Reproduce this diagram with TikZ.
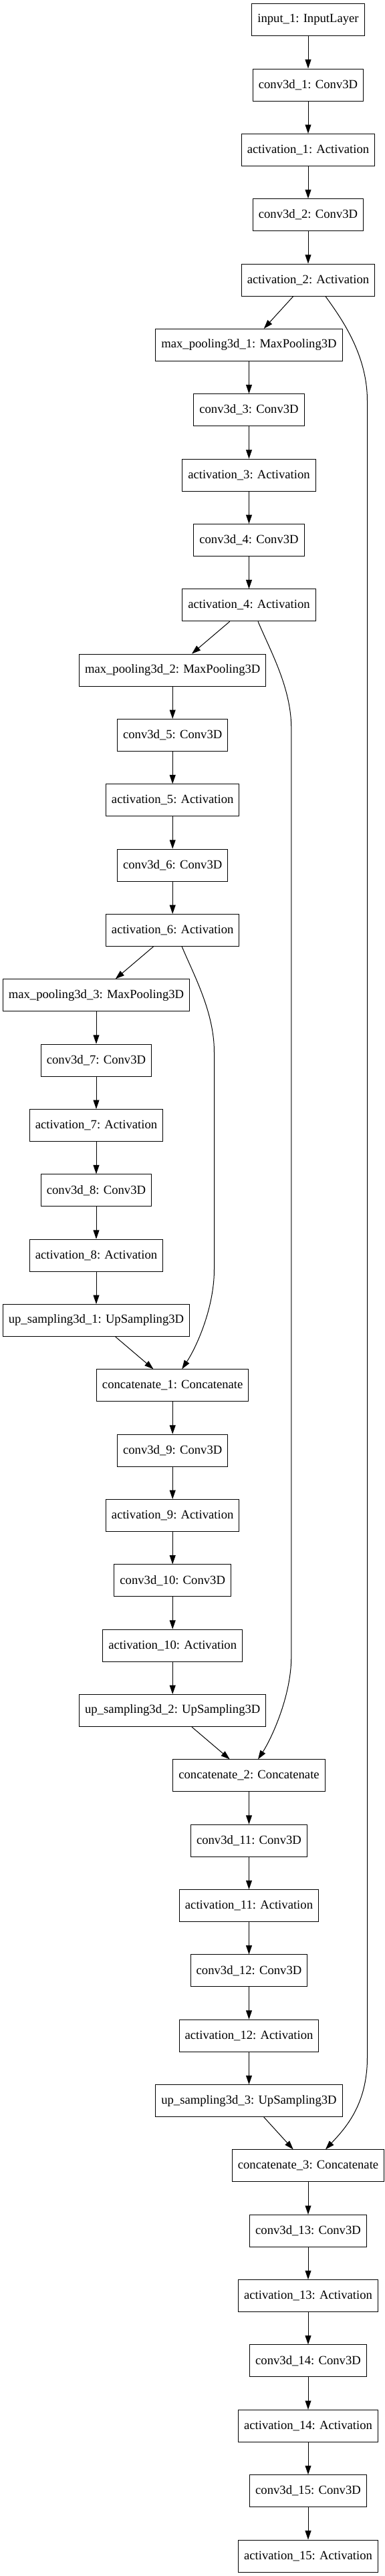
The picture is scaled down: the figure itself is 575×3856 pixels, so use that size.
\documentclass[tikz,border=0pt]{standalone}
\usepackage{fontspec}
\setmainfont{Liberation Serif}
\usepackage{tikz}
\usetikzlibrary{arrows.meta,calc}

\begin{document}
\begin{tikzpicture}[x=0.75pt,y=-0.75pt,
    layer/.style={draw,rectangle,line width=0.75pt,minimum height=36pt,inner xsep=6.4pt,inner ysep=0pt,font=\fontsize{14pt}{16pt}\selectfont},
    edge/.style={line width=0.75pt,-{Triangle[length=10pt,width=6.7pt]}}]
    \useasboundingbox (0,0) rectangle (575,3856);
    \node[layer] (in1) at (461,29.7) {input\_1: InputLayer};
    \node[layer] (cv1) at (461,127.0) {conv3d\_1: Conv3D};
    \node[layer] (ac1) at (461,224.4) {activation\_1: Activation};
    \node[layer] (cv2) at (461,321.7) {conv3d\_2: Conv3D};
    \node[layer] (ac2) at (461,419.1) {activation\_2: Activation};
    \node[layer] (mp1) at (372.5,516.4) {max\_pooling3d\_1: MaxPooling3D};
    \node[layer] (cv3) at (372.5,613.7) {conv3d\_3: Conv3D};
    \node[layer] (ac3) at (372.5,711.1) {activation\_3: Activation};
    \node[layer] (cv4) at (372.5,808.4) {conv3d\_4: Conv3D};
    \node[layer] (ac4) at (372.5,905.8) {activation\_4: Activation};
    \node[layer] (mp2) at (258.2,1003.1) {max\_pooling3d\_2: MaxPooling3D};
    \node[layer] (cv5) at (258.2,1100.4) {conv3d\_5: Conv3D};
    \node[layer] (ac5) at (258.2,1197.8) {activation\_5: Activation};
    \node[layer] (cv6) at (258.2,1295.1) {conv3d\_6: Conv3D};
    \node[layer] (ac6) at (258.2,1392.5) {activation\_6: Activation};
    \node[layer] (mp3) at (144,1489.8) {max\_pooling3d\_3: MaxPooling3D};
    \node[layer] (cv7) at (144,1587.1) {conv3d\_7: Conv3D};
    \node[layer] (ac7) at (144,1684.5) {activation\_7: Activation};
    \node[layer] (cv8) at (144,1781.8) {conv3d\_8: Conv3D};
    \node[layer] (ac8) at (144,1879.2) {activation\_8: Activation};
    \node[layer] (up1) at (144,1976.5) {up\_sampling3d\_1: UpSampling3D};
    \node[layer] (cc1) at (258.2,2073.8) {concatenate\_1: Concatenate};
    \node[layer] (cv9) at (258.2,2171.2) {conv3d\_9: Conv3D};
    \node[layer] (ac9) at (258.2,2268.5) {activation\_9: Activation};
    \node[layer] (cv10) at (258.2,2365.9) {conv3d\_10: Conv3D};
    \node[layer] (ac10) at (258.2,2463.2) {activation\_10: Activation};
    \node[layer] (up2) at (258.2,2560.5) {up\_sampling3d\_2: UpSampling3D};
    \node[layer] (cc2) at (372.5,2657.9) {concatenate\_2: Concatenate};
    \node[layer] (cv11) at (372.5,2755.2) {conv3d\_11: Conv3D};
    \node[layer] (ac11) at (372.5,2852.6) {activation\_11: Activation};
    \node[layer] (cv12) at (372.5,2949.9) {conv3d\_12: Conv3D};
    \node[layer] (ac12) at (372.5,3047.2) {activation\_12: Activation};
    \node[layer] (up3) at (372.5,3144.6) {up\_sampling3d\_3: UpSampling3D};
    \node[layer] (cc3) at (461,3241.9) {concatenate\_3: Concatenate};
    \node[layer] (cv13) at (461,3339.3) {conv3d\_13: Conv3D};
    \node[layer] (ac13) at (461,3436.6) {activation\_13: Activation};
    \node[layer] (cv14) at (461,3533.9) {conv3d\_14: Conv3D};
    \node[layer] (ac14) at (461,3631.3) {activation\_14: Activation};
    \node[layer] (cv15) at (461,3728.6) {conv3d\_15: Conv3D};
    \node[layer] (ac15) at (461,3826.0) {activation\_15: Activation};
    \coordinate (skipa1) at (549.5,600);
    \coordinate (skipa2) at (549.5,3080);
    \coordinate (skipb1) at (435.8,1090);
    \coordinate (skipb2) at (435.8,2480);
    \coordinate (skipc1) at (320.5,1575);
    \coordinate (skipc2) at (320.5,1900);
    \draw[edge] (in1) -- (cv1);
    \draw[edge] (cv1) -- (ac1);
    \draw[edge] (ac1) -- (cv2);
    \draw[edge] (cv2) -- (ac2);
    \draw[edge] (ac2) -- (mp1);
    \draw[edge] (mp1) -- (cv3);
    \draw[edge] (cv3) -- (ac3);
    \draw[edge] (ac3) -- (cv4);
    \draw[edge] (cv4) -- (ac4);
    \draw[edge] (ac4) -- (mp2);
    \draw[edge] (mp2) -- (cv5);
    \draw[edge] (cv5) -- (ac5);
    \draw[edge] (ac5) -- (cv6);
    \draw[edge] (cv6) -- (ac6);
    \draw[edge] (ac6) -- (mp3);
    \draw[edge] (mp3) -- (cv7);
    \draw[edge] (cv7) -- (ac7);
    \draw[edge] (ac7) -- (cv8);
    \draw[edge] (cv8) -- (ac8);
    \draw[edge] (ac8) -- (up1);
    \draw[edge] (up1) -- (cc1);
    \draw[edge] (cc1) -- (cv9);
    \draw[edge] (cv9) -- (ac9);
    \draw[edge] (ac9) -- (cv10);
    \draw[edge] (cv10) -- (ac10);
    \draw[edge] (ac10) -- (up2);
    \draw[edge] (up2) -- (cc2);
    \draw[edge] (cc2) -- (cv11);
    \draw[edge] (cv11) -- (ac11);
    \draw[edge] (ac11) -- (cv12);
    \draw[edge] (cv12) -- (ac12);
    \draw[edge] (ac12) -- (up3);
    \draw[edge] (up3) -- (cc3);
    \draw[edge] (cc3) -- (cv13);
    \draw[edge] (cv13) -- (ac13);
    \draw[edge] (ac13) -- (cv14);
    \draw[edge] (cv14) -- (ac14);
    \draw[edge] (ac14) -- (cv15);
    \draw[edge] (cv15) -- (ac15);
    \draw[edge] ($(ac2.south)+(26,0)$) .. controls +(23,32) and +(0,-70) .. (skipa1)
        -- (skipa2) .. controls +(0,70) and +(30,-32) .. ($(cc3.north)+(26,0)$);
    \draw[edge] ($(ac4.south)+(13.5,0)$) .. controls +(19,45) and +(0,-60) .. (skipb1)
        -- (skipb2) .. controls +(0,60) and +(19,-29) .. ($(cc2.north)+(13.5,0)$);
    \draw[edge] ($(ac6.south)+(14,0)$) .. controls +(18,43) and +(0,-60) .. (skipc1)
        -- (skipc2) .. controls +(0,60) and +(20,-30) .. ($(cc1.north)+(14,0)$);
\end{tikzpicture}
\end{document}
